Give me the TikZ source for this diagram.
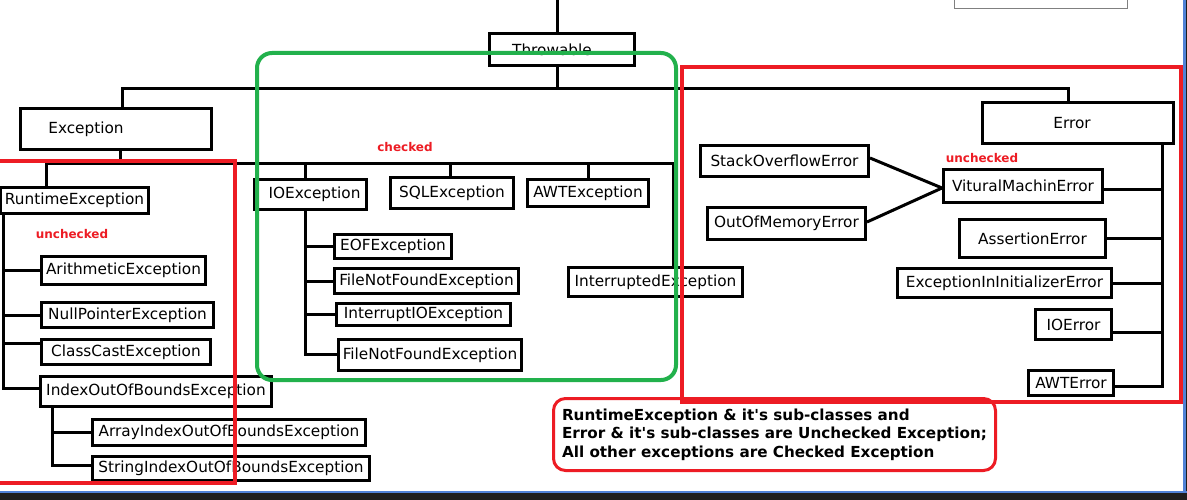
\documentclass[tikz,border=0pt]{standalone}
\usepackage{fontspec}
\setmainfont{DejaVu Sans}
\definecolor{mred}{RGB}{237,28,36}
\definecolor{mgreen}{RGB}{34,177,76}
\definecolor{winblue}{RGB}{80,130,215}
\definecolor{windark}{RGB}{30,30,30}
\tikzset{
  box/.style={draw, line width=3pt, fill=white, inner sep=0pt, font=\fontsize{15.3}{18}\selectfont},
  conn/.style={line width=3pt},
  tag/.style={text=mred, inner sep=0pt, font=\fontsize{12}{14}\selectfont\bfseries},
  frame/.style={line width=4pt},
}
\newcommand\mybox[6]{\node[box,minimum width={#3-#1-3},minimum height={#4-#2-3}] (#5) at ({(#1+#3)/2},{(#2+#4)/2}) {#6};}
\begin{document}
\begin{tikzpicture}[x=1pt,y=-1pt]
\useasboundingbox (0,0) rectangle (1187,500);
\fill[white] (0,0) rectangle (1187,500);
% window chrome
\draw[gray, line width=1pt] (954,-5) rectangle (1127,9);
\fill[winblue] (1183,0) rectangle (1185.5,493);
\fill[windark] (1185.5,0) rectangle (1187,500);
\fill[winblue] (0,490.5) rectangle (1187,493);
\fill[windark] (0,493) rectangle (1187,500);

% boxes
\mybox{488}{32}{636}{67}{thr}{\hspace*{-20pt}Throwable}
\mybox{19}{107}{213}{151}{exc}{\hspace*{-60pt}Exception}
\mybox{981}{101}{1175}{145}{err}{\hspace*{-12pt}Error}
\mybox{-1}{186}{150}{215}{rte}{RuntimeException}
\mybox{40}{255}{207}{286}{ari}{ArithmeticException}
\mybox{40}{301}{215}{329}{npe}{NullPointerException}
\mybox{40}{338}{212}{366}{cce}{ClassCastException}
\mybox{39}{375}{273}{408}{ioobe}{IndexOutOfBoundsException}
\mybox{91}{418}{367}{447}{aioobe}{ArrayIndexOutOfBoundsException}
\mybox{91}{455}{371}{482}{sioobe}{StringIndexOutOfBoundsException}
\mybox{253}{178}{368}{211}{ioe}{\hspace*{8pt}IOException}
\mybox{389}{176}{515}{210}{sql}{SQLException}
\mybox{526}{178}{650}{208}{awte}{AWTException}
\mybox{333}{233}{453}{260}{eof}{EOFException}
\mybox{333}{267}{520}{295}{fnf}{FileNotFoundException}
\mybox{335}{302}{512}{327}{iioe}{InterruptIOException}
\mybox{337}{338}{523}{372}{fnfb}{FileNotFoundException}
\mybox{567}{266}{744}{298}{inte}{InterruptedException}
\mybox{699}{144}{870}{178}{soe}{StackOverflowError}
\mybox{706}{206}{867}{241}{oom}{OutOfMemoryError}
\mybox{942}{168}{1104}{204}{vme}{VituralMachinError}
\mybox{958}{218}{1107}{259}{ase}{AssertionError}
\mybox{896}{267}{1113}{299}{eiie}{ExceptionInInitializerError}
\mybox{1034}{308}{1113}{341}{ioerr}{IOError}
\mybox{1027}{369}{1115}{397}{awterr}{AWTError}

% labels
\node[tag] (lchk) at (405,147) {checked};
\node[tag] (lunl) at (72,234) {unchecked};
\node[tag] (lunr) at (982,158) {unchecked};

% connectors
\coordinate (top) at (557,-3);
\coordinate (bus1) at (122,89);
\coordinate (bus1e) at (1068,89);
\draw[conn] (top) -- (top |- thr.north);
\draw[conn] (top |- thr.south) -- (top |- bus1);
\draw[conn] (bus1 |- exc.north) -- (bus1) -- (bus1e) -- (bus1e |- err.north);

\coordinate (b2a) at (46,164);
\coordinate (b2b) at (673,164);
\coordinate (b2x) at (120,164);
\coordinate (s1) at (305,164);
\coordinate (s2) at (450,164);
\coordinate (s3) at (588,164);
\draw[conn] (b2x |- exc.south) -- (b2x);
\draw[conn] (b2a |- rte.north) -- (b2a) -- (b2b) -- (b2b |- inte.north);
\draw[conn] (s1) -- (s1 |- ioe.north);
\draw[conn] (s2) -- (s2 |- sql.north);
\draw[conn] (s3) -- (s3 |- awte.north);

% runtime subtree
\coordinate (t1) at (3,388);
\coordinate (t1c) at (3,343);
\draw[conn] (t1 |- rte.south) -- (t1) -- (t1 -| ioobe.west);
\draw[conn] (t1 |- ari.west) -- (ari.west);
\draw[conn] (t1 |- npe.west) -- (npe.west);
\draw[conn] (t1c) -- (t1c -| cce.west);
\coordinate (t2) at (52,465);
\draw[conn] (t2 |- ioobe.south) -- (t2) -- (t2 -| sioobe.west);
\draw[conn] (t2 |- aioobe.west) -- (aioobe.west);

% IOException subtree
\coordinate (t3) at (305,354);
\draw[conn] (t3 |- ioe.south) -- (t3) -- (t3 -| fnfb.west);
\draw[conn] (t3 |- eof.west) -- (eof.west);
\draw[conn] (t3 |- fnf.west) -- (fnf.west);
\draw[conn] (t3 |- iioe.west) -- (iioe.west);

% Error subtree
\coordinate (t4) at (1162,386);
\coordinate (t4v) at (1162,190);
\coordinate (t4i) at (1162,332);
\draw[conn] (t4 |- err.south) -- (t4) -- (t4 -| awterr.east);
\draw[conn] (t4v) -- (t4v -| vme.east);
\draw[conn] (t4 |- ase.east) -- (ase.east);
\draw[conn] (t4 |- eiie.east) -- (eiie.east);
\draw[conn] (t4i) -- (t4i -| ioerr.east);
\coordinate (vmj) at (942,188);
\draw[conn] ([yshift=3pt]soe.east) -- (vmj);
\draw[conn] ([yshift=1.5pt]oom.east) -- (vmj);

% frames
\draw[frame, mred] (-5,161) rectangle (235,483);
\draw[frame, mgreen, rounded corners=15pt] (257,53) rectangle (676,380);
\draw[frame, mred] (682,67) rectangle (1181,402);
\node[draw=mred, line width=3pt, rounded corners=12pt, fill=white, inner sep=0pt,
      minimum width=442pt, minimum height=72pt, align=left,
      font=\fontsize{15.2}{18.5}\selectfont\bfseries] (note) at (774.5,434.5)
  {RuntimeException \& it\textquotesingle s sub-classes and\\Error \& it\textquotesingle s sub-classes are Unchecked Exception;\\All other exceptions are Checked Exception};
\draw[frame, mred] (682,380) -- (682,402) -- (1181,402);
\end{tikzpicture}
\end{document}
